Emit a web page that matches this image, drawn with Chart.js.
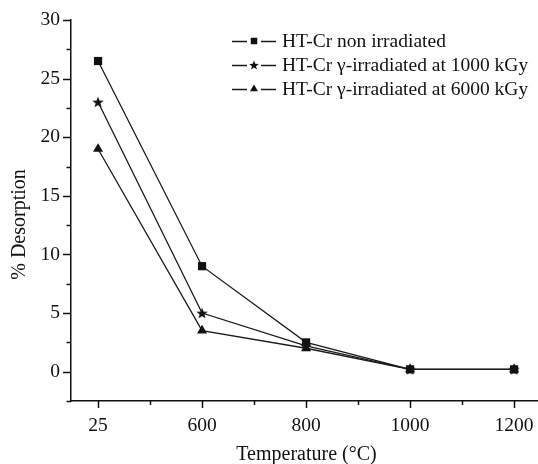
<!DOCTYPE html>
<html>
<head>
<meta charset="utf-8">
<script src="https://cdn.jsdelivr.net/npm/chart.js@4/dist/chart.umd.min.js"></script>
<style>
  html, body { margin: 0; padding: 0; background: #fff; }
  #wrap { width: 538px; height: 464px; position: relative; }
</style>
</head>
<body>
<div id="wrap"><canvas id="chart"></canvas></div>
<script>
// categories on the x axis (evenly spaced in the figure)
const temperatures = ['25', '600', '800', '1000', '1200'];

// % desorption per series
const nonIrradiated = [26.5, 9, 2.5, 0.2, 0.2];
const irradiated1000 = [23, 5, 2.2, 0.2, 0.2];
const irradiated6000 = [19, 3.5, 2, 0.2, 0.2];

const seriesLabels = [
  'HT-Cr non irradiated',
  'HT-Cr \u03b3-irradiated at 1000 kGy',
  'HT-Cr \u03b3-irradiated at 6000 kGy'
];

const yTitle = '% Desorption';
const xTitle = 'Temperature (\u00b0C)';

const INK = '#111';
const FONT = '"Liberation Serif", "Times New Roman", serif';

// filled five point star, Chart.js 'star' is only an outline
function makeStar(size) {
  const c = document.createElement('canvas');
  c.width = size; c.height = size;
  const g = c.getContext('2d');
  const cx = size / 2, cy = size / 2 + 0.5;
  const R = size / 2, r = R * 0.42;
  g.beginPath();
  for (let i = 0; i < 10; i++) {
    const a = -Math.PI / 2 + i * Math.PI / 5;
    const rr = i % 2 === 0 ? R : r;
    g.lineTo(cx + Math.cos(a) * rr, cy + Math.sin(a) * rr);
  }
  g.closePath();
  g.fillStyle = INK;
  g.fill();
  return c;
}
const starImg = makeStar(12);
const starSmall = makeStar(10);

const toPoints = arr => arr.map((v, i) => ({ x: i, y: v }));

const series = [
  { label: seriesLabels[0], data: nonIrradiated, style: 'rect', radius: 5.8 },
  { label: seriesLabels[1], data: irradiated1000, style: starImg, radius: 6 },
  { label: seriesLabels[2], data: irradiated6000, style: 'triangle', radius: 5.8 }
];

const datasets = series.map(s => ({
  label: s.label,
  data: toPoints(s.data),
  borderColor: '#1a1a1a',
  backgroundColor: INK,
  borderWidth: 1.3,
  pointStyle: s.style,
  pointRadius: s.radius,
  pointBorderWidth: 0,
  pointBackgroundColor: INK,
  tension: 0
}));

// tick marks pointing outwards, long on labelled ticks
const axisDecor = {
  id: 'axisDecor',
  afterDraw(chart) {
    const { ctx, chartArea } = chart;
    const xs = chart.scales.x, ys = chart.scales.y;
    ctx.save();
    ctx.strokeStyle = INK;
    ctx.lineWidth = 1.5;
    ctx.beginPath();
    xs.ticks.forEach(t => {
      const px = Math.round(xs.getPixelForValue(t.value)) + 0.5;
      const len = Number.isInteger(t.value) ? 7 : 4;
      ctx.moveTo(px, chartArea.bottom);
      ctx.lineTo(px, chartArea.bottom + len);
    });
    ys.ticks.forEach(t => {
      const py = Math.round(ys.getPixelForValue(t.value)) + 0.5;
      const len = t.value % 5 === 0 ? 8 : 4.5;
      ctx.moveTo(chartArea.left, py);
      ctx.lineTo(chartArea.left - len, py);
    });
    ctx.stroke();

    // axis titles
    ctx.fillStyle = INK;
    ctx.font = '20px ' + FONT;
    ctx.textAlign = 'center';
    ctx.textBaseline = 'middle';
    ctx.fillText(xTitle, (chartArea.left + chartArea.right) / 2 + 2, chartArea.bottom + 54);
    ctx.translate(chartArea.left - 51, (chartArea.top + chartArea.bottom) / 2 + 14);
    ctx.rotate(-Math.PI / 2);
    ctx.fillText(yTitle, 0, 0);
    ctx.restore();
  }
};

// legend: short line broken by the marker, then the label
const lineLegend = {
  id: 'lineLegend',
  afterDraw(chart) {
    const { ctx, chartArea } = chart;
    const x0 = chartArea.left + 161;
    ctx.save();
    ctx.font = '19.5px ' + FONT;
    ctx.textAlign = 'left';
    ctx.textBaseline = 'middle';
    chart.data.datasets.forEach((ds, i) => {
      const y = chartArea.top + 21 + i * 24;
      ctx.strokeStyle = '#1a1a1a';
      ctx.lineWidth = 1.6;
      ctx.beginPath();
      ctx.moveTo(x0, y + 0.5);
      ctx.lineTo(x0 + 15, y + 0.5);
      ctx.moveTo(x0 + 29, y + 0.5);
      ctx.lineTo(x0 + 44, y + 0.5);
      ctx.stroke();
      ctx.fillStyle = INK;
      const isStar = ds.pointStyle === starImg;
      Chart.helpers.drawPoint(ctx, {
        pointStyle: isStar ? starSmall : ds.pointStyle,
        radius: 4.6,
        rotation: 0,
        borderWidth: 0
      }, x0 + 22, y);
      ctx.fillText(ds.label, x0 + 50, y + 1);
    });
    ctx.restore();
  }
};

new Chart(document.getElementById('chart'), {
  type: 'line',
  data: { datasets },
  plugins: [axisDecor, lineLegend],
  options: {
    responsive: true,
    maintainAspectRatio: false,
    animation: false,
    layout: { autoPadding: false, padding: { top: 20, right: 0, left: 0, bottom: 0 } },
    plugins: {
      legend: { display: false },
      tooltip: { enabled: false }
    },
    scales: {
      x: {
        type: 'linear',
        min: -0.26,
        max: 4.23,
        afterFit(scale) {
          scale.height = 63;
          scale.paddingLeft = 0;
          scale.paddingRight = 0;
        },
        grid: { display: true, drawOnChartArea: false, drawTicks: false },
        border: { display: true, color: INK, width: 1.5 },
        ticks: {
          stepSize: 0.5,
          includeBounds: false,
          autoSkip: false,
          maxRotation: 0,
          padding: 13,
          color: INK,
          font: { family: FONT, size: 19.5 },
          callback: v => Number.isInteger(v) ? temperatures[v] : ''
        }
      },
      y: {
        min: -2.5,
        max: 30,
        afterFit(scale) {
          scale.width = 71;
          scale.paddingTop = 0;
          scale.paddingBottom = 0;
        },
        grid: { display: true, drawOnChartArea: false, drawTicks: false },
        border: { display: true, color: INK, width: 1.5 },
        ticks: {
          stepSize: 2.5,
          autoSkip: false,
          padding: 11,
          color: INK,
          font: { family: FONT, size: 19.5 },
          callback: v => (v >= 0 && v % 5 === 0) ? String(v) : ''
        }
      }
    }
  }
});
</script>
</body>
</html>
